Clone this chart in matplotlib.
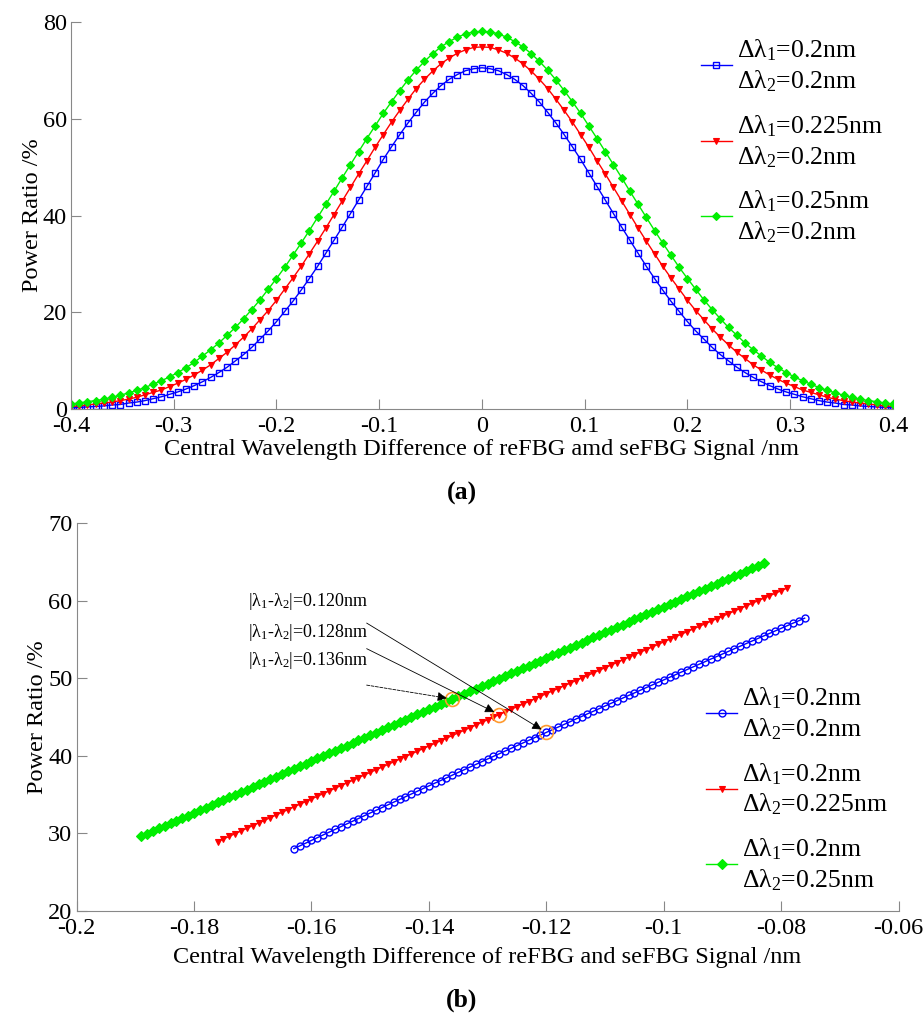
import numpy as np
import matplotlib
matplotlib.use("Agg")
import matplotlib.pyplot as plt

plt.rcParams['font.family'] = ['Liberation Serif', 'DejaVu Serif']
plt.rcParams['mathtext.fontset'] = 'custom'
plt.rcParams['mathtext.rm'] = 'Liberation Serif'
plt.rcParams['mathtext.it'] = 'Liberation Serif'
plt.rcParams['axes.unicode_minus'] = False

# ---- panel (a): power ratio vs central wavelength difference ----
a_blue = [0.3, 0.4, 0.5, 0.6, 0.7, 0.9, 1.0, 1.3, 1.5, 1.8, 2.2, 2.6, 3.1, 3.6, 4.2, 4.9, 5.7, 6.6, 7.6, 8.7,
          10.0, 11.3, 12.8, 14.5, 16.2, 18.1, 20.2, 22.3, 24.6, 27.0, 29.5, 32.2, 34.9, 37.6, 40.4, 43.2, 46.0,
          48.8, 51.6, 54.2, 56.7, 59.1, 61.3, 63.4, 65.2, 66.8, 68.1, 69.1, 69.9, 70.3, 70.5, 70.3, 69.9, 69.1,
          68.1, 66.8, 65.2, 63.4, 61.3, 59.1, 56.7, 54.2, 51.6, 48.8, 46.0, 43.2, 40.4, 37.6, 34.9, 32.2, 29.5,
          27.0, 24.6, 22.3, 20.2, 18.1, 16.2, 14.5, 12.8, 11.3, 10.0, 8.7, 7.6, 6.6, 5.7, 4.9, 4.2, 3.6, 3.1,
          2.6, 2.2, 1.8, 1.5, 1.3, 1.0, 0.9, 0.7, 0.6, 0.5, 0.4, 0.3]
a_red = [0.6, 0.7, 0.9, 1.1, 1.3, 1.5, 1.8, 2.1, 2.5, 3.0, 3.5, 4.0, 4.7, 5.4, 6.2, 7.1, 8.1, 9.2, 10.5, 11.8,
         13.3, 14.9, 16.6, 18.5, 20.4, 22.5, 24.8, 27.1, 29.5, 32.1, 34.7, 37.4, 40.2, 43.0, 45.8, 48.6, 51.3,
         54.1, 56.7, 59.3, 61.7, 64.0, 66.2, 68.1, 69.8, 71.3, 72.5, 73.5, 74.2, 74.7, 74.8, 74.7, 74.2, 73.5,
         72.5, 71.3, 69.8, 68.1, 66.2, 64.0, 61.7, 59.3, 56.7, 54.1, 51.3, 48.6, 45.8, 43.0, 40.2, 37.4, 34.7,
         32.1, 29.5, 27.1, 24.8, 22.5, 20.4, 18.5, 16.6, 14.9, 13.3, 11.8, 10.5, 9.2, 8.1, 7.1, 6.2, 5.4, 4.7,
         4.0, 3.5, 3.0, 2.5, 2.1, 1.8, 1.5, 1.3, 1.1, 0.9, 0.7, 0.6]
a_green = [1.1, 1.3, 1.6, 1.8, 2.1, 2.5, 2.9, 3.4, 3.9, 4.5, 5.2, 5.9, 6.7, 7.6, 8.6, 9.7, 11.0, 12.3, 13.7,
           15.3, 16.9, 18.7, 20.6, 22.6, 24.8, 27.0, 29.3, 31.8, 34.3, 36.9, 39.6, 42.3, 45.0, 47.8, 50.5, 53.2,
           55.9, 58.5, 61.1, 63.5, 65.8, 68.0, 70.0, 71.8, 73.4, 74.8, 75.9, 76.8, 77.5, 77.9, 78.0, 77.9, 77.5,
           76.8, 75.9, 74.8, 73.4, 71.8, 70.0, 68.0, 65.8, 63.5, 61.1, 58.5, 55.9, 53.2, 50.5, 47.8, 45.0, 42.3,
           39.6, 36.9, 34.3, 31.8, 29.3, 27.0, 24.8, 22.6, 20.6, 18.7, 16.9, 15.3, 13.7, 12.3, 11.0, 9.7, 8.6,
           7.6, 6.7, 5.9, 5.2, 4.5, 3.9, 3.4, 2.9, 2.5, 2.1, 1.8, 1.6, 1.3, 1.1]
a_labels = ['Δλ$_1$=0.2nm\nΔλ$_2$=0.2nm',
            'Δλ$_1$=0.225nm\nΔλ$_2$=0.2nm',
            'Δλ$_1$=0.25nm\nΔλ$_2$=0.2nm']
a_xticks = [-0.4, -0.3, -0.2, -0.1, 0, 0.1, 0.2, 0.3, 0.4]
a_xticklabels = ['-0.4', '-0.3', '-0.2', '-0.1', '0', '0.1', '0.2', '0.3', '0.4']
a_yticks = [0, 20, 40, 60, 80]

# ---- panel (b): zoomed segments ----
b_blue_range = (-0.163, -0.076)
b_blue = [28.00, 28.36, 28.71, 29.07, 29.42, 29.78, 30.13, 30.48, 30.84, 31.19, 31.54, 31.89, 32.25, 32.60,
          32.95, 33.30, 33.65, 34.00, 34.35, 34.70, 35.05, 35.40, 35.75, 36.10, 36.45, 36.79, 37.14, 37.49,
          37.84, 38.18, 38.53, 38.87, 39.22, 39.57, 39.91, 40.25, 40.60, 40.94, 41.29, 41.63, 41.97, 42.32,
          42.66, 43.00, 43.34, 43.68, 44.02, 44.36, 44.71, 45.05, 45.39, 45.72, 46.06, 46.40, 46.74, 47.08,
          47.42, 47.76, 48.09, 48.43, 48.77, 49.10, 49.44, 49.77, 50.11, 50.44, 50.78, 51.11, 51.45, 51.78,
          52.11, 52.45, 52.78, 53.11, 53.44, 53.78, 54.11, 54.44, 54.77, 55.10, 55.43, 55.76, 56.09, 56.42,
          56.75, 57.08, 57.40, 57.73]
b_red_range = (-0.176, -0.079)
b_red = [28.90, 29.25, 29.59, 29.94, 30.28, 30.63, 30.97, 31.32, 31.66, 32.01, 32.35, 32.70, 33.04, 33.38,
         33.73, 34.07, 34.41, 34.76, 35.10, 35.44, 35.79, 36.13, 36.47, 36.81, 37.15, 37.50, 37.84, 38.18,
         38.52, 38.86, 39.20, 39.54, 39.88, 40.22, 40.56, 40.90, 41.24, 41.58, 41.92, 42.26, 42.60, 42.94,
         43.27, 43.61, 43.95, 44.29, 44.63, 44.96, 45.30, 45.64, 45.97, 46.31, 46.65, 46.98, 47.32, 47.66,
         47.99, 48.33, 48.66, 49.00, 49.33, 49.67, 50.00, 50.34, 50.67, 51.01, 51.34, 51.67, 52.01, 52.34,
         52.67, 53.01, 53.34, 53.67, 54.00, 54.34, 54.67, 55.00, 55.33, 55.66, 56.00, 56.33, 56.66, 56.99,
         57.32, 57.65, 57.98, 58.31, 58.64, 58.97, 59.30, 59.63, 59.96, 60.29, 60.61, 60.94, 61.27, 61.60]
b_green_range = (-0.189, -0.083)
b_green = [29.60, 29.93, 30.27, 30.61, 30.94, 31.28, 31.61, 31.95, 32.28, 32.62, 32.95, 33.29, 33.62, 33.96,
           34.29, 34.63, 34.96, 35.30, 35.63, 35.97, 36.30, 36.64, 36.97, 37.31, 37.64, 37.97, 38.31, 38.64,
           38.98, 39.31, 39.64, 39.98, 40.31, 40.64, 40.98, 41.31, 41.64, 41.98, 42.31, 42.64, 42.98, 43.31,
           43.64, 43.98, 44.31, 44.64, 44.97, 45.31, 45.64, 45.97, 46.30, 46.64, 46.97, 47.30, 47.63, 47.96,
           48.30, 48.63, 48.96, 49.29, 49.62, 49.95, 50.29, 50.62, 50.95, 51.28, 51.61, 51.94, 52.27, 52.61,
           52.94, 53.27, 53.60, 53.93, 54.26, 54.59, 54.92, 55.25, 55.58, 55.91, 56.24, 56.57, 56.90, 57.23,
           57.56, 57.89, 58.22, 58.55, 58.88, 59.21, 59.54, 59.87, 60.20, 60.53, 60.86, 61.19, 61.51, 61.84,
           62.17, 62.50, 62.83, 63.16, 63.49, 63.82, 64.14, 64.47, 64.80]
b_labels = ['Δλ$_1$=0.2nm\nΔλ$_2$=0.2nm',
            'Δλ$_1$=0.2nm\nΔλ$_2$=0.225nm',
            'Δλ$_1$=0.2nm\nΔλ$_2$=0.25nm']
b_xticks = [-0.2, -0.18, -0.16, -0.14, -0.12, -0.1, -0.08, -0.06]
b_xticklabels = ['-0.2', '-0.18', '-0.16', '-0.14', '-0.12', '-0.1', '-0.08', '-0.06']
b_yticks = [20, 30, 40, 50, 60, 70]

# marked points and their notes (order: 0.120, 0.128, 0.136)
mark_x = [-0.120, -0.128, -0.136]
mark_y = [43.0, 45.3, 47.3]
mark_text = ['|λ$_1$-λ$_2$|=0.120nm', '|λ$_1$-λ$_2$|=0.128nm', '|λ$_1$-λ$_2$|=0.136nm']
text_x = -0.1708
text_y = [59.9, 55.9, 52.3]
tail_x = -0.1506
tail_y = [57.1, 53.8, 49.1]

BLUE, RED, GREEN = '#0000ff', '#ff0000', '#00ee00'
FS = 17.5
LEG_FS = 18.5


def style_axes(ax):
    for s in ['top', 'right']:
        ax.spines[s].set_visible(False)
    for s in ['left', 'bottom']:
        ax.spines[s].set_color('#888888')
    ax.tick_params(direction='in', length=7, color='#888888', labelsize=FS)
    ax.tick_params(axis='x', pad=5)
    ax.tick_params(axis='y', pad=3)


def style_legend(leg):
    for t in leg.get_texts():
        t.set_linespacing(1.25)


fig = plt.figure(figsize=(9.24, 10.16), dpi=100)

# panel (a)
ax1 = fig.add_axes([0.0768, 0.5971, 0.8896, 0.3815])
xa = np.linspace(-0.4, 0.4, len(a_blue))
ax1.plot(xa, a_blue, '-s', color=BLUE, lw=1, ms=4, mfc='none', mew=1, label=a_labels[0])
ax1.plot(xa, a_red, '-v', color=RED, lw=1, ms=5, mew=0.8, label=a_labels[1])
ax1.plot(xa, a_green, '-D', color=GREEN, lw=1, ms=4, mew=0.8, label=a_labels[2])
ax1.set_xlim(-0.4, 0.4)
ax1.set_ylim(0, 80)
ax1.set_xticks(a_xticks, a_xticklabels)
ax1.set_yticks(a_yticks)
style_axes(ax1)
ax1.set_xlabel('Central Wavelength Difference of reFBG amd seFBG Signal /nm', fontsize=FS, labelpad=1)
ax1.set_ylabel('Power Ratio /%', fontsize=FS, labelpad=0)
leg1 = ax1.legend(loc='upper right', bbox_to_anchor=(1.0, 0.985), frameon=False, fontsize=LEG_FS,
                  handlelength=1.2, handletextpad=0.2, labelspacing=0.75, borderaxespad=0)
style_legend(leg1)

# panel (b)
ax2 = fig.add_axes([0.0829, 0.1036, 0.8896, 0.3816])
ax2.plot(np.linspace(*b_blue_range, len(b_blue)), b_blue, '-o', color=BLUE, lw=1, ms=5,
         mfc='none', mew=1, label=b_labels[0])
ax2.plot(np.linspace(*b_red_range, len(b_red)), b_red, '-v', color=RED, lw=1, ms=5, mew=0.8,
         label=b_labels[1])
ax2.plot(np.linspace(*b_green_range, len(b_green)), b_green, '-D', color=GREEN, lw=1, ms=5, mew=0.8,
         label=b_labels[2])
ax2.plot(mark_x, mark_y, 'o', ms=10, mfc='none', mec='#ff9a2e', mew=1.2)
for i in range(3):
    ax2.text(text_x, text_y[i], mark_text[i], fontsize=13, va='center', ha='left')
    ax2.annotate('', xy=(mark_x[i], mark_y[i]), xytext=(tail_x, tail_y[i]),
                 arrowprops=dict(arrowstyle='-|>', color='k', lw=0.6, mutation_scale=14,
                                 shrinkA=0, shrinkB=4, linestyle='--' if i == 2 else '-'))
ax2.set_xlim(-0.2, -0.06)
ax2.set_ylim(20, 70)
ax2.set_xticks(b_xticks, b_xticklabels)
ax2.set_yticks(b_yticks)
style_axes(ax2)
ax2.set_xlabel('Central Wavelength Difference of reFBG and seFBG Signal /nm', fontsize=FS, labelpad=6)
ax2.set_ylabel('Power Ratio /%', fontsize=FS, labelpad=0)
leg2 = ax2.legend(loc='lower right', bbox_to_anchor=(1.0, 0.02), frameon=False, fontsize=LEG_FS,
                  handlelength=1.2, handletextpad=0.2, labelspacing=0.75, borderaxespad=0)
style_legend(leg2)

fig.text(0.5, 1 - 493 / 1016, '(a)', ha='center', va='center', fontsize=FS + 1, fontweight='bold')
fig.text(0.5, 1 - 1000 / 1016, '(b)', ha='center', va='center', fontsize=FS + 1, fontweight='bold')

fig.savefig('out.png', dpi=100)
